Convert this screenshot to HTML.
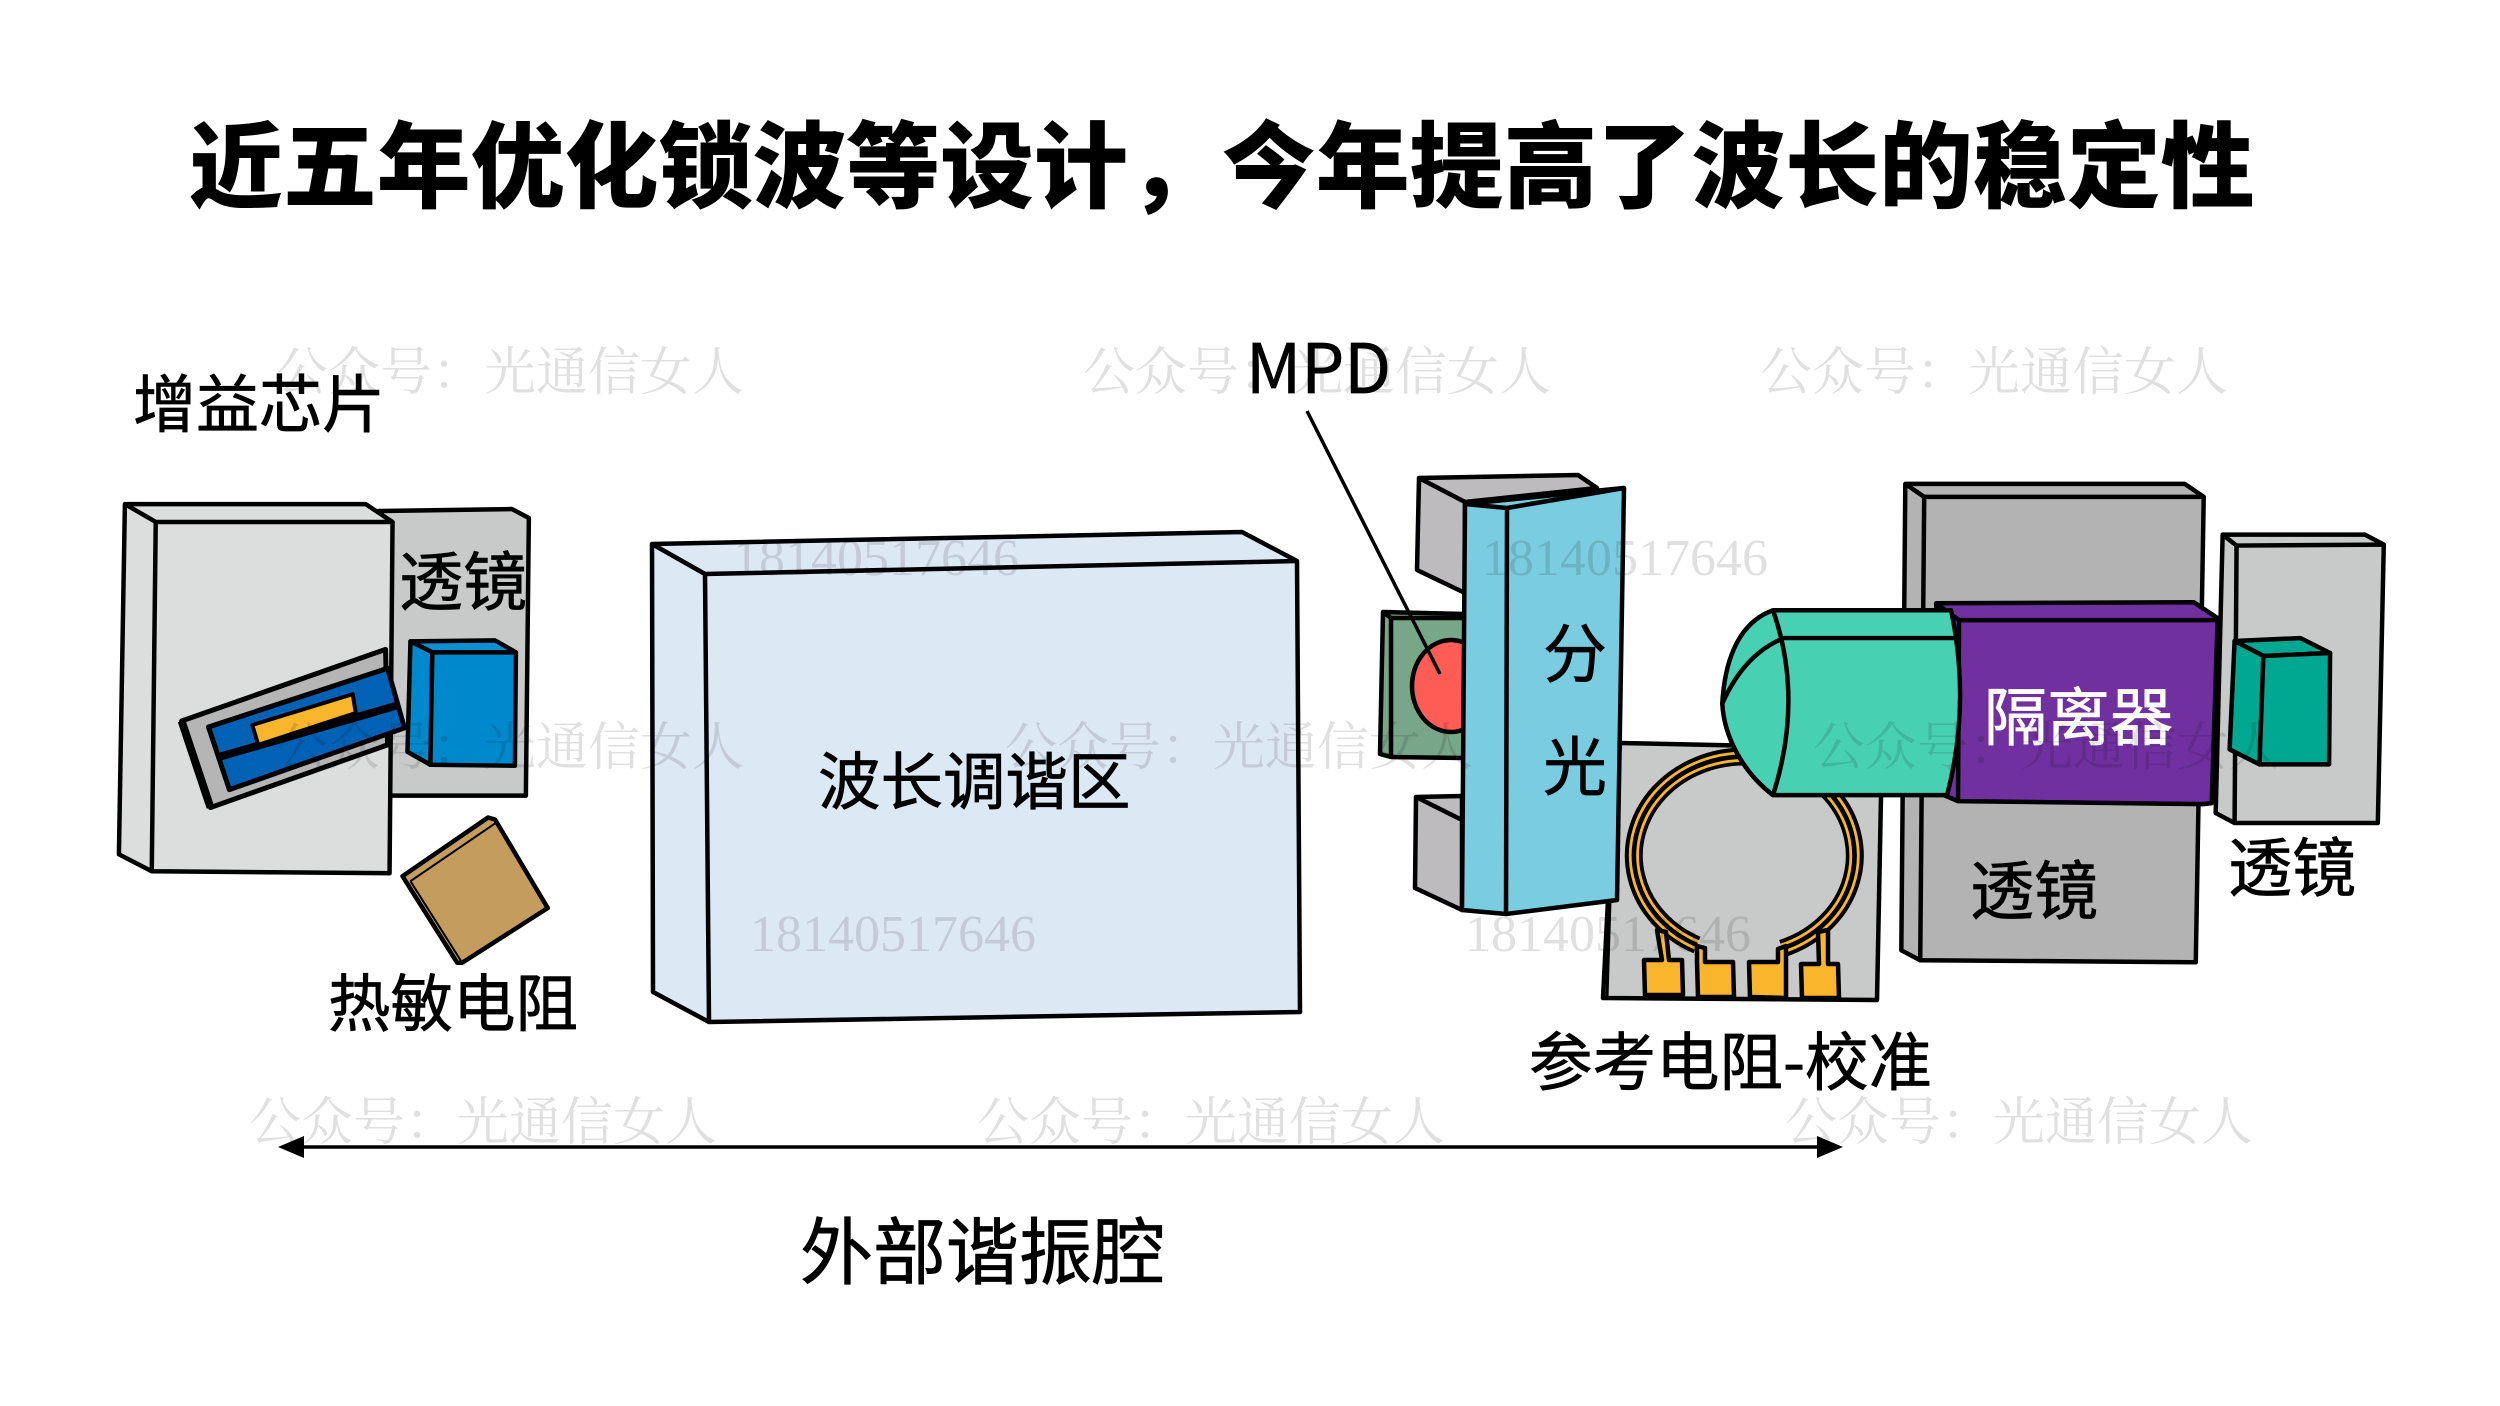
<!DOCTYPE html>
<html><head><meta charset="utf-8"><style>
html,body{margin:0;padding:0;background:#fff}
svg{display:block}
text{font-family:"Liberation Sans","Noto Sans CJK SC",sans-serif;font-size:64px;fill:#000}
.c{font-family:"Noto Sans CJK SC",sans-serif;stroke:#000;stroke-width:.7}
.wt{stroke:#fff !important;fill:#fff}
.w{font-family:"Noto Serif CJK SC","Liberation Serif",serif;font-size:52px;fill:#000;fill-opacity:.12}
.n{font-family:"Liberation Serif",serif;font-size:52px;fill:#000;fill-opacity:.12}
g.s *{stroke:#000;stroke-width:4.5;stroke-linejoin:round}
</style></head><body>
<svg width="2500" height="1406" viewBox="0 0 2500 1406" xmlns="http://www.w3.org/2000/svg">
<rect width="2500" height="1406" fill="#fff"/>
<text x="189" y="200" style="font-family:'Noto Sans CJK SC',sans-serif;font-size:93.9px;font-weight:900">近五年优化锁波等设计，今年提高了波长的稳定性</text>

<g class="s" transform="translate(102,320) scale(.995) translate(-100,-320)">
<!-- left lens plate -->
<polygon points="378,512 512,510 529,519 526,798 388,798 388,523" fill="#c8cac9"/>
<!-- gain chip carrier -->
<polygon points="123,505 365,505 392,523 389,876 150,874 117,857" fill="#dcdedd"/>
<polyline points="123,505 154,523 392,523" fill="none"/>
<line x1="154" y1="523" x2="150" y2="874"/>
<!-- chip -->
<polygon points="180,723 385,651 387,747 209,810" fill="#b5b5b5" style="stroke-width:5"/>
<line x1="180" y1="723" x2="209" y2="810" style="stroke-width:8"/>
<polygon points="207,729 387,670 404,730 228,792" fill="#0061b5" style="stroke-width:5"/>
<line x1="218" y1="759" x2="398" y2="707" style="stroke-width:8"/>
<polygon points="251,727 352,696 355,715 257,747" fill="#f9b62c" style="stroke-width:4"/>
<!-- blue lens -->
<polygon points="410,643 495,642 516,654 432,654" fill="#0d8fd4"/>
<polygon points="410,643 432,654 430,767 407,754" fill="#0088cc"/>
<polygon points="432,654 516,654 515,768 430,767" fill="#0088cc"/>
<!-- thermistor -->
<polygon points="402,879 488,820 495,822 548,911 462,966 457,966" fill="#c49c5e"/>
<polyline points="410,884 495,826" fill="none" style="stroke-width:2"/>
<polyline points="410,884 462,966" fill="none" style="stroke-width:2"/>
</g>

<g class="s">
<!-- tuning block -->
<polygon points="652,544 1242,532 1297,561 1300,1012 709,1022 653,992" fill="#dde8f5"/>
<polyline points="652,544 705,574 1297,561" fill="none"/>
<line x1="705" y1="574" x2="709" y2="1022"/>
<!-- MPD green -->
<polygon points="1383,612 1465,614 1464,758 1391,757 1380,754" fill="#78a688"/>
<polyline points="1383,612 1391,618 1465,618" fill="none"/>
<line x1="1391" y1="618" x2="1391" y2="757"/>
<ellipse cx="1451" cy="686" rx="39" ry="46" fill="#ff5c56"/>
<!-- gray blocks -->
<polygon points="1419,478 1578,475 1597,488 1465,502 1465,593 1417,570" fill="#bdbbbd"/>
<line x1="1419" y1="478" x2="1465" y2="502"/>
<polygon points="1416,797 1462,796 1462,910 1415,888" fill="#bdbbbd"/>
<line x1="1416" y1="797" x2="1462" y2="820"/>
<!-- reference plate -->
<polygon points="1620,743 1760,746 1882,746 1877,1000 1603,998 1608,900" fill="#c8cac9"/>
<line x1="1610" y1="900" x2="1607" y2="998" style="stroke-width:3"/>
<!-- prism -->
<polygon points="1465,504 1624,488 1617,900 1506,914 1462,910" fill="#7acce0"/>
<polyline points="1465,504 1507,508 1624,488" fill="none"/>
<line x1="1507" y1="508" x2="1506" y2="914"/>
</g>

<g class="s" transform="translate(1580,470) scale(.9948,.9944) translate(-1580,-470)">
<!-- big gray lens -->
<polygon points="1907,484 2188,484 2207,497 2199,965 1922,963 1903,953" fill="#b3b3b3"/>
<polyline points="1907,484 1926,497 2207,497" fill="none"/>
<line x1="1926" y1="497" x2="1922" y2="963"/>
<!-- right lens -->
<polygon points="2226,535 2369,535 2388,545 2382,825 2238,825 2219,815" fill="#c8cac9"/>
<polyline points="2226,535 2240,546 2388,545" fill="none"/>
<line x1="2240" y1="546" x2="2238" y2="825"/>
<polygon points="2238,642 2304,639 2334,654 2267,657" fill="#00a891"/>
<polygon points="2238,642 2267,657 2263,766 2233,751" fill="#00a891"/>
<polygon points="2267,657 2334,654 2333,766 2263,766" fill="#00a891"/>
<!-- purple isolator -->
<polygon points="1938,604 2197,603 2221,619 2215,805 2207,806 1960,803 1946,797" fill="#7030a0"/>
<polyline points="1938,604 1961,621 2221,621" fill="none"/>
<line x1="1961" y1="621" x2="1960" y2="803"/>
</g>

<!-- coil -->
<path d="M1697,945 A110.5,99 0 1 1 1782,948.6" fill="none" stroke="#000" stroke-width="18"/>
<path d="M1695.4,948.3 A114,102.6 0 1 1 1783.3,952" fill="none" stroke="#f9b62c" stroke-width="2.8"/>
<path d="M1698.6,941.7 A106.6,95.2 0 1 1 1780.7,945.1" fill="none" stroke="#f9b62c" stroke-width="2.8"/>
<!-- pads -->
<g stroke="#000" stroke-width="4.5" fill="#f9b62c" stroke-linejoin="round">
<path d="M1644,960 L1662,960 L1657,930 L1666,932 L1669,960 L1682,960 L1683,995 L1645,995 Z"/>
<path d="M1697,962 L1697,946 L1705,948 L1705,962 L1733,962 L1734,997 L1698,997 Z"/>
<path d="M1749,962 L1778,962 L1778,949 L1786,946 L1786,998 L1750,997 Z"/>
<path d="M1801,964 L1819,964 L1818,932 L1828,930 L1828,964 L1838,964 L1839,998 L1802,998 Z"/>
</g>

<g class="s" transform="translate(1580,470) scale(.9948,.9944) translate(-1580,-470)">
<!-- teal cylinder -->
<path d="M1774,611 L1953,611 Q1973,705 1949,797 L1774,797 C1745,775 1725,740 1723,705 C1725,670 1735,625 1774,611 Z" fill="#47d1b2"/>
<path d="M1774,611 Q1805,700 1774,797" fill="none"/>
<path d="M1723,705 Q1745,655 1785,639 L1960,639" fill="none"/>
</g>

<!-- MPD leader -->
<line x1="1307" y1="411" x2="1440" y2="674" stroke="#000" stroke-width="3.5"/>
<!-- arrow -->
<line x1="300" y1="1147" x2="1820" y2="1147" stroke="#000" stroke-width="3.5"/>
<polygon points="278,1147 304,1136 304,1158" fill="#000"/>
<polygon points="1843,1147 1817,1136 1817,1158" fill="#000"/>

<!-- labels -->
<text class="c" x="133" y="427" style="font-size:63px">增益芯片</text>
<text class="c" x="399" y="605">透镜</text>
<text class="c" x="328" y="1026" style="font-size:62.5px">热敏电阻</text>
<text class="c" x="818" y="804" style="font-size:62.5px">波长调谐区</text>
<text class="c" x="1543" y="677">分</text>
<text class="c" x="1543" y="790">光</text>
<text class="c wt" x="1984" y="740" style="font-size:63px">隔离器</text>
<text class="c" x="1970" y="914">透镜</text>
<text class="c" x="2228" y="891">透镜</text>
<text class="c" x="1529" y="1085" style="font-size:63.5px">参考电阻-校准</text>
<text class="c" x="800" y="1278" style="font-size:73px">外部谐振腔</text>

<!-- watermarks -->
<text class="w" x="276" y="390">公众号：光通信女人</text>
<text class="w" x="1083" y="390">公众号：光通信女人</text>
<text class="w" x="1760" y="390">公众号：光通信女人</text>
<text class="w" x="276" y="765">公众号：光通信女人</text>
<text class="w" x="1005" y="765">公众号：光通信女人</text>
<text class="w" x="1813" y="765">公众号：光通信女人</text>
<text class="w" x="249" y="1140">公众号：光通信女人</text>
<text class="w" x="977" y="1140">公众号：光通信女人</text>
<text class="w" x="1785" y="1140">公众号：光通信女人</text>
<text class="n" x="733" y="575">18140517646</text>
<text class="n" x="1482" y="575">18140517646</text>
<text class="n" x="750" y="951">18140517646</text>
<text class="n" x="1465" y="951">18140517646</text>

<text class="c" x="1246" y="393" style="font-size:68px">MPD</text>
</svg>
</body></html>
